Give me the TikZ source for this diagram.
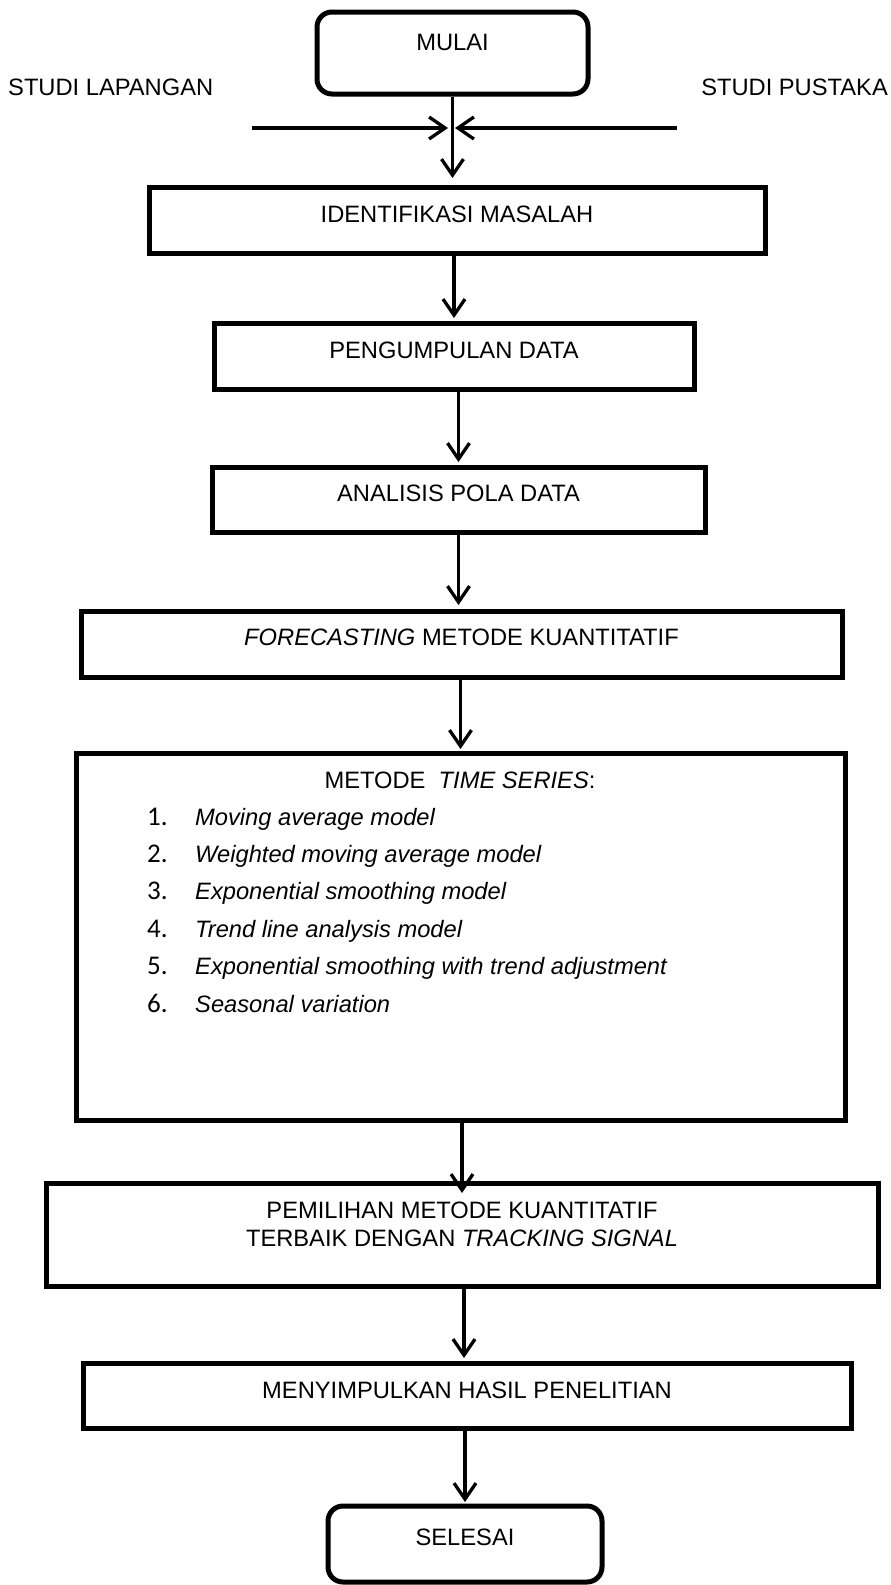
\documentclass[tikz,border=0pt]{standalone}
\usepackage{fontspec}
\setmainfont{Liberation Sans}
\newfontfamily\numfont{Carlito}
\usetikzlibrary{arrows.meta}
\begin{document}
\begin{tikzpicture}[x=1pt,y=-1pt,
  txtfont/.style={font=\fontsize{23.7pt}{28pt}\selectfont},
  box/.style={draw, line width=5pt, inner sep=0pt, txtfont, text height=17pt},
  rbox/.style={box, rounded corners=15pt},
  arr/.style={line width=3.3pt, -{Straight Barb[length=16pt,width=22pt]}},
  lbl/.style={inner sep=0pt, txtfont},
  numlbl/.style={inner sep=0pt, anchor=base west, font=\numfont\fontsize{27pt}{30pt}\selectfont},
  itemlbl/.style={inner sep=0pt, anchor=base west, font=\fontsize{23.7pt}{28pt}\selectfont\itshape},
]
\useasboundingbox (0,0) rectangle (891,1585);

% boxes
\node[rbox, minimum width=271pt, minimum height=82pt, text depth=23pt] (mulai) at (452.5,53) {MULAI};
\node[box, minimum width=616pt, minimum height=66pt, text depth=13pt] (ident) at (457,220) {IDENTIFIKASI MASALAH};
\node[box, minimum width=480pt, minimum height=66pt, text depth=13pt] (peng) at (454,356) {PENGUMPULAN DATA};
\node[box, minimum width=493pt, minimum height=65pt, text depth=14pt] (anal) at (458.5,499.5) {ANALISIS POLA DATA};
\node[box, minimum width=761pt, minimum height=66pt, text depth=15pt] (fore) at (461.5,644) {\textit{FORECASTING} METODE KUANTITATIF};
\node[draw, line width=5pt, inner sep=0pt, minimum width=769pt, minimum height=367pt] (mts) at (460.5,936.5) {};
\node[box, minimum width=832pt, minimum height=103pt, text depth=50pt] (pemi) at (462,1234.5)
  {\begin{tabular}[t]{@{}c@{}}PEMILIHAN METODE KUANTITATIF\\TERBAIK DENGAN \textit{TRACKING SIGNAL}\end{tabular}};
\node[box, minimum width=768pt, minimum height=65pt, text depth=12pt] (meny) at (467,1395.5) {MENYIMPULKAN HASIL PENELITIAN};
\node[rbox, minimum width=274pt, minimum height=76pt, text depth=15pt] (sele) at (465,1544) {SELESAI};

% side labels
\node[lbl, anchor=base west] (lap) at (8,95) {STUDI LAPANGAN};
\node[lbl, anchor=base east] (pus) at (888,95) {STUDI PUSTAKA};

% time series content
\node[lbl, anchor=base] (mtstitle) at (460,788) {METODE\ \ \textit{TIME SERIES}:};
\foreach \i/\t [count=\k from 0] in {1/Moving average model,
  2/Weighted moving average model,
  3/Exponential smoothing model,
  4/Trend line analysis model,
  5/Exponential smoothing with trend adjustment,
  6/Seasonal variation}{
  \node[numlbl] (num\i) at (147,825+37.4*\k) {\i.};
  \node[itemlbl] (item\i) at (195,825+37.4*\k) {\t};
}

% side arrows
\coordinate (lapS) at (252,128);
\coordinate (lapE) at (448,128);
\coordinate (pusS) at (677,128);
\coordinate (pusE) at (455,128);
\draw[arr] (lapS) -- (lapE);
\draw[arr] (pusS) -- (pusE);

% main flow
\draw[arr, shorten >=6.5pt] (mulai.south) -- (mulai.south |- ident.north);
\draw[arr, shorten >=2.5pt] (peng.north |- ident.south) -- (peng.north);
\draw[arr, shorten >=2.5pt] (anal.north |- peng.south) -- (anal.north);
\draw[arr, shorten >=3.5pt] (anal.south) -- (anal.south |- fore.north);
\draw[arr, shorten >=1.5pt] (mts.north |- fore.south) -- (mts.north);
\draw[arr, shorten >=-12.5pt] (pemi.north |- mts.south) -- (pemi.north);
\draw[arr, shorten >=2.5pt] ([xshift=2pt]pemi.south) -- ([xshift=2pt]pemi.south |- meny.north);
\draw[arr, shorten >=1.5pt] (sele.north |- meny.south) -- (sele.north);
\end{tikzpicture}
\end{document}
